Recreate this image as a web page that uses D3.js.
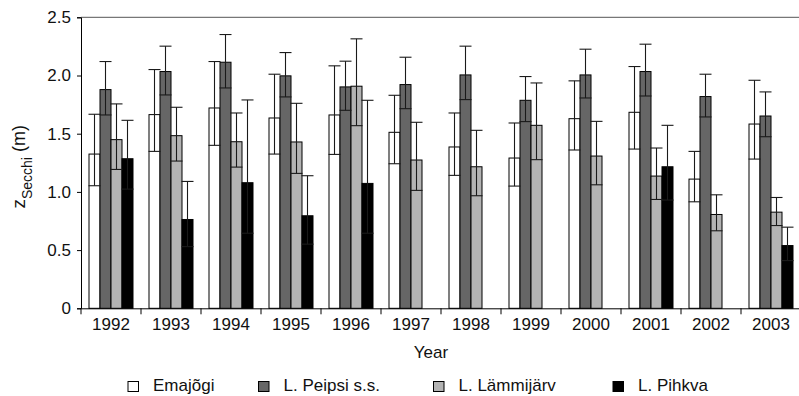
<!DOCTYPE html>
<html>
<head>
<meta charset="utf-8">
<script src="https://cdn.jsdelivr.net/npm/d3@7/dist/d3.min.js"></script>
<style>
  html, body { margin: 0; padding: 0; background: #fff; }
  svg { display: block; }
  text { font-family: "Liberation Sans", Arial, sans-serif; fill: #111; }
</style>
</head>
<body>
<svg id="chart" width="799" height="396"></svg>
<script>
// Secchi depth (m), yearly means with lower/upper error limits
const years = ["1992","1993","1994","1995","1996","1997","1998","1999","2000","2001","2002","2003"];
const seriesNames = ["Emajõgi", "L. Peipsi s.s.", "L. Lämmijärv", "L. Pihkva"];
const seriesFill = ["#ffffff", "#666666", "#b3b3b3", "#000000"];

const emajogiMean = [1.325, 1.664, 1.721, 1.635, 1.661, 1.512, 1.386, 1.291, 1.629, 1.684, 1.110, 1.583];
const emajogiUp   = [1.667, 2.051, 2.120, 2.011, 2.083, 1.830, 1.678, 1.592, 1.954, 2.077, 1.348, 1.959];
const emajogiLow  = [1.053, 1.348, 1.400, 1.325, 1.322, 1.242, 1.142, 1.050, 1.360, 1.368, 0.915, 1.282];

const peipsiMean = [1.879, 2.034, 2.114, 1.997, 1.902, 1.922, 2.005, 1.787, 2.005, 2.034, 1.819, 1.652];
const peipsiUp   = [2.120, 2.252, 2.352, 2.197, 2.123, 2.157, 2.252, 1.991, 2.226, 2.269, 2.011, 1.859];
const peipsiLow  = [1.661, 1.833, 1.893, 1.816, 1.701, 1.715, 1.793, 1.604, 1.807, 1.824, 1.644, 1.474];

const lammijarvMean = [1.449, 1.483, 1.431, 1.429, 1.908, 1.274, 1.216, 1.572, 1.308, 1.136, 0.806, 0.826];
const lammijarvUp   = [1.756, 1.727, 1.678, 1.761, 2.315, 1.598, 1.529, 1.936, 1.606, 1.377, 0.975, 0.952];
const lammijarvLow  = [1.193, 1.265, 1.213, 1.159, 1.569, 1.013, 0.967, 1.277, 1.061, 0.935, 0.666, 0.711];

const pihkvaMean = [1.285, 0.763, 1.079, 0.795, 1.073, null, null, null, null, 1.216, null, 0.539];
const pihkvaUp   = [1.615, 1.090, 1.790, 1.139, 1.787, null, null, null, null, 1.572, null, 0.697];
const pihkvaLow  = [1.024, 0.530, 0.645, 0.551, 0.645, null, null, null, null, 0.930, null, 0.410];

const yTicks = [0, 0.5, 1.0, 1.5, 2.0, 2.5];
const yTickLabels = ["0", "0.5", "1.0", "1.5", "2.0", "2.5"];

const means = [emajogiMean, peipsiMean, lammijarvMean, pihkvaMean];
const ups = [emajogiUp, peipsiUp, lammijarvUp, pihkvaUp];
const lows = [emajogiLow, peipsiLow, lammijarvLow, pihkvaLow];

const records = [];
years.forEach((yr, i) => {
  seriesNames.forEach((s, k) => {
    if (means[k][i] != null) {
      records.push({ year: yr, series: s, k, mean: means[k][i], up: ups[k][i], low: lows[k][i] });
    }
  });
});

const svg = d3.select("#chart");
const plotLeft = 81, plotRight = 801, plotTop = 17.3, plotBottom = 308.3;

const x = d3.scaleBand().domain(years).range([plotLeft, plotRight]).padding(0);
const xs = d3.scaleBand().domain(seriesNames).range([8, x.bandwidth() - 8]).padding(0);
const y = d3.scaleLinear().domain([0, 2.5]).range([plotBottom, plotTop]);

// top frame line
svg.append("line")
  .attr("x1", plotLeft).attr("x2", plotRight)
  .attr("y1", y(2.5)).attr("y2", y(2.5))
  .attr("stroke", "#555").attr("stroke-width", 1);

// bars
const g = svg.append("g");
g.selectAll("rect.bar").data(records).join("rect")
  .attr("class", "bar")
  .attr("x", d => x(d.year) + xs(d.series))
  .attr("width", xs.bandwidth())
  .attr("y", d => y(d.mean))
  .attr("height", d => y(0) - y(d.mean))
  .attr("fill", d => seriesFill[d.k])
  .attr("stroke", "#000").attr("stroke-width", 1);

// error bars
const capW = xs.bandwidth() + 1;
const cx = d => x(d.year) + xs(d.series) + xs.bandwidth() / 2;
const eb = g.selectAll("g.err").data(records).join("g").attr("class", "err")
  .attr("stroke", "#1a1a1a").attr("stroke-width", 1.1);
eb.append("line")
  .attr("x1", cx).attr("x2", cx)
  .attr("y1", d => y(d.up)).attr("y2", d => y(d.low));
eb.append("line")
  .attr("x1", d => cx(d) - capW / 2).attr("x2", d => cx(d) + capW / 2)
  .attr("y1", d => y(d.up)).attr("y2", d => y(d.up));
eb.append("line")
  .attr("x1", d => cx(d) - capW / 2).attr("x2", d => cx(d) + capW / 2)
  .attr("y1", d => y(d.low)).attr("y2", d => y(d.low));

// y axis
const yAxis = d3.axisLeft(y).tickValues(yTicks)
  .tickFormat((d, i) => yTickLabels[i]).tickSize(4).tickPadding(6);
const ya = svg.append("g").attr("transform", `translate(${plotLeft},0)`).call(yAxis);
ya.select(".domain").attr("stroke", "#000");
ya.selectAll(".tick line").attr("stroke", "#000");
ya.selectAll("text").attr("font-size", 17).attr("font-family", "Liberation Sans, Arial, sans-serif").attr("fill", "#111");

// x axis: labels centred in each band, ticks at band boundaries
const xAxis = d3.axisBottom(x).tickSize(0).tickPadding(10);
const xa = svg.append("g").attr("transform", `translate(0,${plotBottom})`).call(xAxis);
xa.select(".domain").attr("stroke", "#000");
xa.selectAll("text").attr("font-size", 17).attr("font-family", "Liberation Sans, Arial, sans-serif").attr("fill", "#111");
const boundaries = years.map(yr => x(yr)).concat([x(years[years.length - 1]) + x.bandwidth()]);
svg.append("g").selectAll("line").data(boundaries).join("line")
  .attr("x1", d => d).attr("x2", d => d)
  .attr("y1", plotBottom).attr("y2", plotBottom + 6)
  .attr("stroke", "#000");

// axis titles
svg.append("text").attr("x", 431).attr("y", 358)
  .attr("text-anchor", "middle").attr("font-size", 17).text("Year");

const yl = svg.append("text")
  .attr("transform", `translate(25,${(plotTop + plotBottom) / 2 + 4}) rotate(-90)`)
  .attr("text-anchor", "middle").attr("font-size", 19);
yl.append("tspan").text("z");
yl.append("tspan").attr("font-size", 14).attr("dy", 7).text("Secchi");
yl.append("tspan").attr("dy", -7).attr("font-size", 18).text(" (m)");

// legend
const legendX = [128, 258.5, 433.5, 613];
const lg = svg.append("g").selectAll("g").data(seriesNames).join("g")
  .attr("transform", (d, i) => `translate(${legendX[i]},381.5)`);
lg.append("rect").attr("width", 10.5).attr("height", 10)
  .attr("fill", (d, i) => seriesFill[i]).attr("stroke", "#000").attr("stroke-width", 1);
lg.append("text").attr("x", 25).attr("y", 9.5).attr("font-size", 17).text(d => d);
</script>
</body>
</html>
